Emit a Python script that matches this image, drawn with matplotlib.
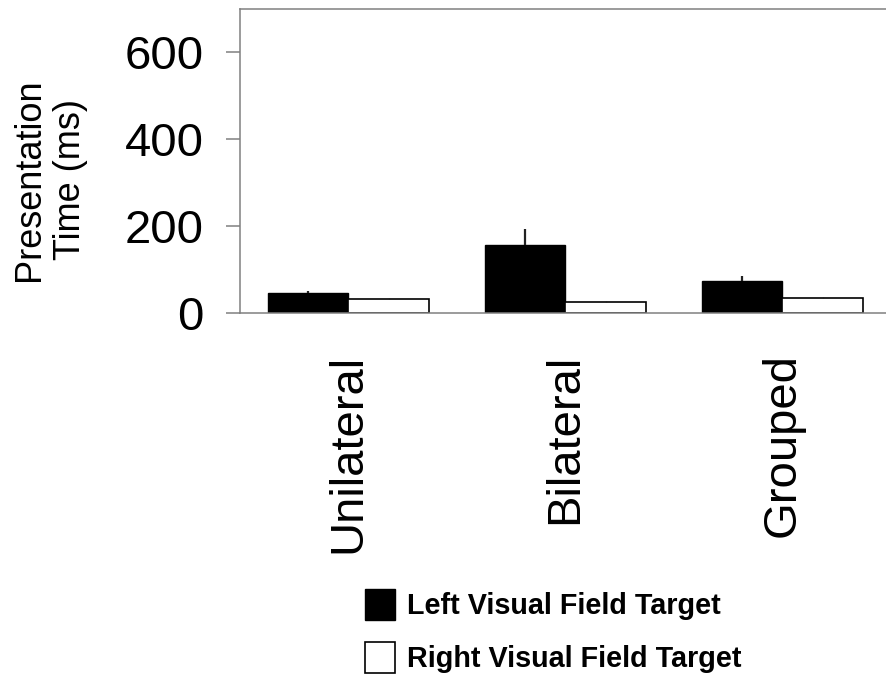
"""Grouped bar chart: presentation time by display condition and visual field."""

import matplotlib
matplotlib.use("Agg")
import matplotlib.pyplot as plt
import numpy as np

# data
categories = ["Unilateral", "Bilateral", "Grouped"]
series_names = ["Left Visual Field Target", "Right Visual Field Target"]
left_means = [46, 157, 75]
left_err = [6, 38, 11]
right_means = [33, 27, 34.5]
right_err = [2, 2, 3]
y_ticks = [0, 200, 400, 600]

plt.rcParams["font.family"] = ["Liberation Sans", "DejaVu Sans"]

W, H = 887, 677
fig = plt.figure(figsize=(W / 100, H / 100), dpi=100)

# axes box in pixels (the right edge runs just past the canvas)
left_px, right_px, top_px, bottom_px = 240, 891, 9, 313.3
ax = fig.add_axes([left_px / W, 1 - bottom_px / H,
                   (right_px - left_px) / W, (bottom_px - top_px) / H])

x = np.arange(len(categories))
width = 0.373
spine_grey = "#808080"

ax.bar(x - width / 2, left_means, width, color="black", edgecolor="black",
       linewidth=1.0, label=series_names[0], zorder=2)
ax.bar(x + width / 2, right_means, width, color="white", edgecolor="black",
       linewidth=1.2, label=series_names[1], zorder=2)

# upward-only error bars, no caps
ax.errorbar(x - width / 2, left_means, yerr=[np.zeros(len(x)), left_err],
            fmt="none", ecolor="#222222", elinewidth=1.6, capsize=0, zorder=3)
ax.errorbar(x + width / 2, right_means, yerr=[np.zeros(len(x)), right_err],
            fmt="none", ecolor="#222222", elinewidth=1.0, capsize=0, zorder=3)

ax.set_xlim(-0.5, 2.5)
ax.set_ylim(0, 700)

ax.set_yticks(y_ticks)
ax.set_xticks(x, labels=categories, rotation=90, va="top")
ax.tick_params(axis="y", direction="out", length=10, width=1.1,
               color=spine_grey, pad=16, labelsize=34)
ax.tick_params(axis="x", length=0, pad=29, labelsize=34)

for side in ["left", "top", "bottom"]:
    ax.spines[side].set_color(spine_grey)
    ax.spines[side].set_linewidth(1.1)
ax.spines["right"].set_visible(False)

fig.text(50 / W, 1 - 180 / H, "Presentation\nTime (ms)", rotation=90,
         ha="center", va="center", multialignment="center", fontsize=26)

fig.legend(loc="upper left", bbox_to_anchor=(365 / W, 1 - 589 / H),
           frameon=False, borderpad=0, borderaxespad=0,
           prop={"weight": "bold", "size": 20.7},
           handlelength=1.05, handleheight=1.3, handletextpad=0.42,
           labelspacing=0.75)

fig.savefig("out.png", dpi=100)
